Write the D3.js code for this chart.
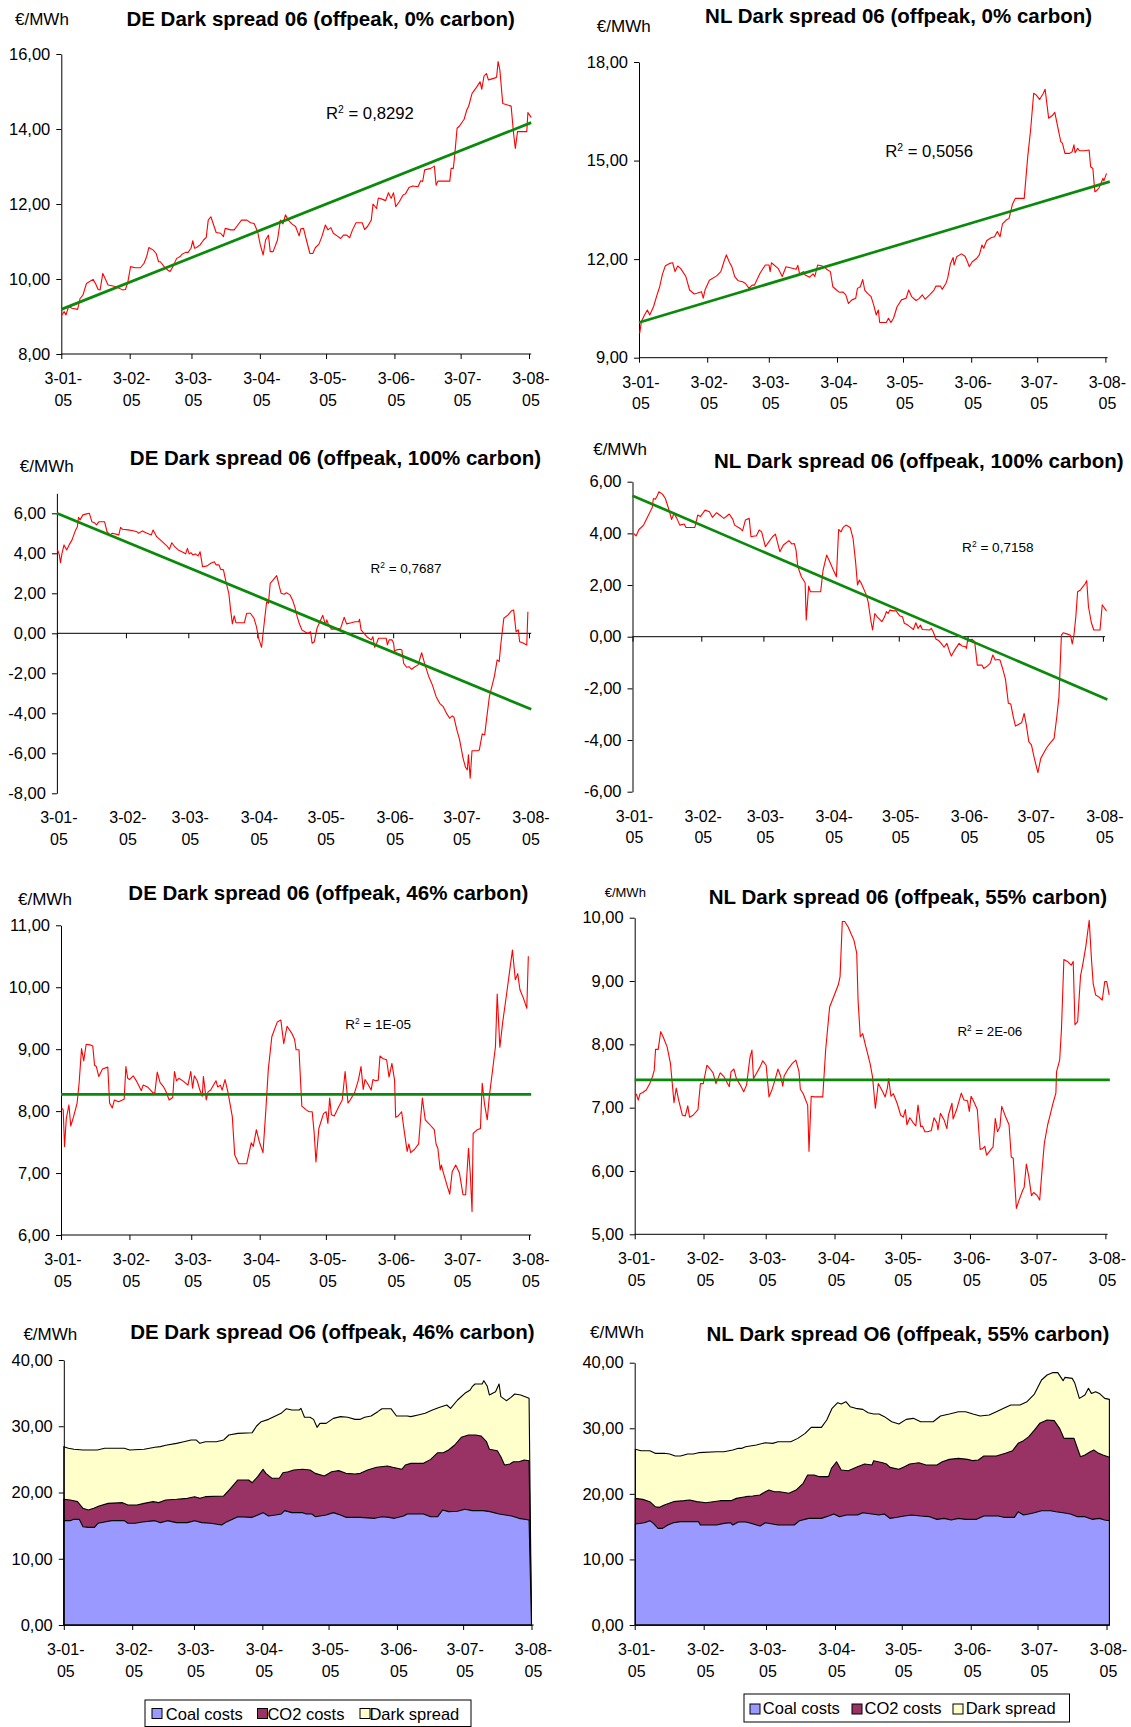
<!DOCTYPE html>
<html><head><meta charset="utf-8">
<script src="https://cdn.jsdelivr.net/npm/d3@7"></script>
<style>body{margin:0;background:#fff}svg{display:block}text{font-family:"Liberation Sans",Arial,sans-serif;fill:#000}</style>
</head><body>
<svg id="c" width="1131" height="1727"></svg>
<script>
// ---------- shared axis data ----------
const startDate = "2005-01-03";
const monthTicks = ["2005-01-03","2005-02-03","2005-03-03","2005-04-03","2005-05-03","2005-06-03","2005-07-03","2005-08-03"];
const tickLine1 = ["3-01-","3-02-","3-03-","3-04-","3-05-","3-06-","3-07-","3-08-"];
const tickLine2 = "05";
const legendLabels = ["Coal costs","CO2 costs","Dark spread"];

// ---------- series: [days since 3-01-05, €/MWh] ----------
const de0 = [[0.3,9.04],[1.3,9.13],[2.1,9.04],[2.6,9.13],[3.3,9.26],[4.9,9.22],[7.4,9.19],[8.5,9.48],[9.8,9.57],[11.4,9.88],[14.4,9.99],[15.5,9.88],[16.7,9.72],[17.6,9.71],[18.8,10.15],[21.2,9.84],[24.5,9.8],[27.8,9.71],[29.1,9.72],[30.2,9.93],[31.4,10.33],[33.5,10.3],[35.9,10.3],[37.5,10.42],[38.7,10.6],[39.7,10.84],[41.7,10.77],[43,10.68],[44.1,10.46],[44.9,10.46],[46.6,10.33],[48.2,10.24],[49.3,10.2],[50.6,10.33],[52.3,10.55],[53.9,10.6],[54.7,10.66],[56.4,10.71],[57.5,10.71],[58.8,10.82],[59.6,11.02],[60.4,10.82],[61.3,10.84],[62.9,10.91],[64.5,11.04],[65.7,11.11],[66.6,11.57],[67.8,11.66],[70.2,11.24],[72.2,11.22],[73.5,11.13],[74.3,11.35],[76.8,11.31],[78.4,11.31],[80,11.44],[81.7,11.57],[84.1,11.57],[85.8,11.5],[87.4,11.48],[89,11.26],[90.2,10.91],[91.5,10.64],[92.6,11.04],[93.9,11.17],[94.7,10.73],[96,10.73],[98,11.04],[99.3,11.57],[100.5,11.47],[101.6,11.71],[102.9,11.57],[104.5,11.47],[106.2,11.4],[107.8,11.15],[108.6,11.34],[109.8,11.35],[111.1,11.04],[112.7,10.68],[114,10.68],[115.2,10.84],[116.8,10.93],[118.1,11.13],[119.7,11.44],[120.9,11.31],[122.2,11.37],[123.3,11.22],[125,11.15],[126.6,11.08],[127.9,11.17],[129.4,11.17],[130.7,11.1],[132,11.31],[133.6,11.5],[136.4,11.5],[137.5,11.32],[138.8,11.4],[140.5,11.57],[141.3,12.0],[142.9,11.88],[143.7,12.16],[145.4,12.13],[147,12.09],[148.3,12.3],[149.5,12.15],[150.6,12.3],[151.6,11.93],[153.2,12.06],[154.9,12.24],[156,12.27],[157.6,12.44],[159.3,12.48],[161.7,12.46],[162.9,12.62],[163.8,12.6],[164.7,12.91],[167.4,12.95],[169.1,13.01],[169.9,12.5],[170.7,12.61],[176.1,12.61],[176.7,12.95],[177.7,12.95],[178.4,13.35],[179.4,14.02],[180.5,14.08],[182.6,14.26],[183.8,14.51],[184.6,14.6],[186.2,14.95],[188.2,15.11],[189.8,15.26],[190.6,15.06],[191.6,15.41],[192.7,15.48],[193.6,15.31],[196,15.35],[197.3,15.38],[198,15.8],[198.8,15.57],[200.1,14.68],[203.9,14.61],[205,13.88],[205.8,13.48],[206.8,13.93],[211,13.93],[211.5,14.44],[212.3,14.37],[213,14.31]];
const de0Trend = [[0,9.19],[213,14.17]];

const nl0 = [[0.3,9.74],[1.1,10.1],[2.5,10.3],[3.8,10.45],[4.9,10.3],[6.6,10.55],[8.2,10.91],[9.4,11.16],[10.7,11.55],[12,11.8],[13.9,11.87],[15.3,11.89],[16.4,11.62],[17.6,11.79],[18.9,11.72],[21.3,11.47],[23,11.06],[25.1,10.94],[26.3,10.96],[28.4,11.01],[29.2,10.81],[30,11.06],[32,11.36],[35.3,11.49],[37.2,11.62],[38.6,11.92],[39.7,12.13],[41,11.92],[42.2,11.77],[43.5,11.47],[45.1,11.34],[47.1,11.31],[48.4,11.26],[50,11.11],[51.4,11.21],[52.5,11.21],[55,11.57],[57.4,11.82],[59.1,11.82],[59.6,11.62],[60.2,11.89],[63.2,11.72],[65.1,11.47],[66.8,11.77],[69.7,11.72],[71.4,11.69],[72.2,11.81],[73,11.55],[74.7,11.62],[75.5,11.52],[77.6,11.45],[79.1,11.55],[79.9,11.47],[81.2,11.82],[82.9,11.8],[84.2,11.77],[85.3,11.69],[87,11.62],[88.1,11.16],[89.8,11.06],[91.1,10.99],[92.7,11.0],[94,10.91],[95.2,10.65],[96.8,10.76],[98.5,10.81],[99.3,11.11],[100.6,11.16],[101.7,11.38],[102.6,11.06],[103.9,10.96],[105.5,10.86],[106.7,10.6],[107.8,10.3],[108.8,10.45],[109.4,10.07],[110.8,10.07],[112.4,10.07],[113.4,10.2],[114.5,10.07],[115.7,10.2],[117.3,10.55],[119.3,10.76],[121.4,10.81],[122.6,11.06],[123.9,10.86],[125.9,10.74],[127.2,10.79],[128.8,10.91],[130.1,10.78],[132.1,10.91],[134.1,11.06],[135,11.18],[137,11.18],[137.8,11.08],[139.5,11.26],[140.3,11.42],[141.6,11.87],[142.8,12.05],[143.2,11.82],[144.4,12.07],[146.5,12.16],[148.2,12.09],[149.3,11.92],[150.1,11.77],[151.5,11.92],[153.4,12.02],[154.7,12.13],[155.9,12.43],[156.7,12.33],[158,12.56],[160,12.65],[161.6,12.68],[162.9,12.84],[164.1,12.68],[165.2,13.07],[166.9,13.19],[168.2,13.24],[169.8,13.68],[171.1,13.85],[175.1,13.85],[176.7,15.12],[178,15.93],[179.4,17.05],[180.5,17.0],[182.1,16.86],[183.8,17.05],[184.6,17.17],[186.2,16.29],[187.9,16.37],[189,16.47],[190.3,16.03],[191.7,15.58],[192.5,15.52],[193.6,15.22],[195.8,15.22],[196.9,15.27],[197.7,15.48],[198.2,15.24],[199.4,15.37],[200.2,15.3],[202.6,15.3],[204.6,15.32],[205.3,14.81],[206.3,14.76],[207.2,14.05],[207.9,14.08],[209.2,14.18],[210.9,14.46],[211.3,14.38],[212.5,14.61]];
const nl0Trend = [[0,10.07],[214,14.36]];

const de100 = [[0.3,4.17],[1.1,3.92],[1.6,3.53],[2.3,4.0],[3.2,4.42],[4.4,4.17],[5.5,4.42],[6.8,4.67],[8.4,5.17],[9.2,5.33],[9.7,5.8],[10.4,5.67],[11.7,5.92],[13.3,5.97],[14.6,6.0],[15.7,5.58],[16.8,5.53],[17.8,5.42],[18.9,5.58],[21.4,5.58],[22.5,5.08],[23.8,4.92],[24.9,5.0],[27.8,4.92],[28.6,5.3],[29.5,5.2],[31.9,5.17],[34.3,5.13],[35.9,5.08],[36.7,5.0],[38.4,5.12],[40,5.03],[42.4,4.92],[43.2,5.17],[44.8,4.83],[47.3,4.58],[49.7,4.33],[50.5,4.2],[51.6,4.53],[52.9,4.33],[54.5,4.17],[57,4.03],[57.8,3.97],[58.6,4.25],[59.4,3.97],[60.2,4.03],[61,3.92],[62.1,3.97],[63.4,3.87],[64.3,4.08],[65.4,3.33],[67.5,3.37],[69.1,3.5],[70.7,3.58],[71.5,3.42],[72.8,3.42],[73.5,3.2],[74.8,3.17],[75.9,2.58],[77.2,2.0],[78,1.17],[78.8,0.47],[79.6,0.87],[80.4,0.53],[82.1,0.53],[84.2,0.53],[85.2,1.0],[86.9,1.0],[88.5,0.75],[89.6,0.33],[90.6,-0.25],[91.9,-0.7],[93.4,0.83],[94.2,1.58],[95,1.5],[95.8,2.5],[98.7,2.88],[99.9,2.33],[100.7,2.0],[102,1.95],[103.1,2.03],[104.7,1.92],[105.8,1.67],[106.8,1.33],[107.9,0.83],[108.8,0.5],[110,0.17],[111.7,0.05],[112.8,0],[113.9,0.08],[114.6,-0.5],[115.6,-0.42],[116.8,0.25],[118.1,0.58],[119.4,0.9],[120.6,0.42],[121.2,0.67],[122,0.42],[123.3,0.2],[124.9,0.22],[127.4,0.25],[129,0.8],[130.1,0.47],[132.2,0.53],[133.8,0.58],[135.5,0.58],[135.9,0.7],[136.6,0.17],[137.9,0],[139.5,-0.2],[141.1,-0.33],[141.9,-0.17],[142.7,-0.7],[143.6,-0.5],[144.4,-0.25],[146.8,-0.25],[147.9,-0.25],[148.4,-0.58],[149.2,-0.33],[150.5,-0.33],[151.2,-0.5],[151.6,-0.92],[152.5,-0.83],[154.1,-0.8],[154.9,-0.83],[155.7,-1.5],[157,-1.7],[158.1,-1.67],[159.3,-1.8],[160.5,-1.7],[162.2,-1.58],[163.8,-0.97],[165.1,-1.5],[167,-2.17],[168.6,-2.58],[170.3,-3.17],[171.9,-3.5],[173.5,-3.67],[175.1,-4.03],[176.4,-4.25],[177.5,-4.13],[178.3,-4.2],[179.6,-4.83],[180.8,-5.3],[182.4,-6.25],[183.5,-6.7],[184.3,-6.83],[184.8,-6.08],[185.6,-7.25],[186.4,-5.87],[188.9,-5.87],[189.7,-5.83],[191,-5.03],[192.1,-5.08],[192.9,-4.33],[194.2,-3.17],[196.5,-2.13],[197.7,-1.33],[198.6,-1.42],[199.4,-0.5],[200.7,0.75],[202.6,0.92],[204.2,1.13],[205.1,1.17],[206.2,0.08],[207.2,0.17],[207.8,-0.42],[209.1,-0.47],[211,-0.58],[211.5,1.08]];
const de100Trend = [[0,6.0],[213,-3.8]];

const nl100 = [[0.5,4.0],[1.6,3.9],[2.9,4.15],[5,4.32],[7,4.67],[8.3,4.9],[8.9,5.0],[9.4,5.35],[10.3,5.32],[11.1,5.45],[11.9,5.61],[13.5,5.52],[14.8,5.35],[15.9,5.06],[16.8,4.8],[17.6,4.54],[18.7,4.77],[20,4.58],[21.3,4.32],[23.3,4.36],[24.1,4.23],[25.7,4.23],[28.1,4.23],[29.4,4.71],[30.6,4.65],[32.7,4.9],[34.7,4.84],[36,4.62],[37.9,4.8],[39.9,4.67],[41.2,4.58],[43.6,4.75],[45.2,4.54],[46,4.32],[48.5,4.19],[49.6,4.1],[50.9,4.52],[52.6,4.58],[53.4,3.87],[55,3.9],[55.8,3.9],[57.1,4.13],[58.2,4.06],[59.9,3.48],[61.5,3.68],[63.1,3.87],[64.4,3.97],[66.4,3.29],[68,3.55],[70.5,3.72],[71.8,3.59],[72.9,3.61],[73.7,3.35],[74.5,2.71],[76.1,2.32],[77.8,2.09],[78.3,0.65],[79.4,1.96],[80.2,1.74],[81.8,1.74],[83.5,1.74],[84.8,1.74],[85.9,2.58],[87.5,3.16],[89.2,2.84],[90.8,2.52],[91.9,2.32],[92.9,4.15],[94,4.06],[94.9,4.23],[96.2,4.32],[98.1,4.23],[99.4,3.81],[100.6,2.84],[101.4,2.0],[102.2,2.19],[103,2.09],[105.4,1.61],[106.2,1.35],[107.5,0.58],[108.2,0.26],[109.2,0.9],[110.3,0.77],[112.4,0.58],[113.6,0.77],[114.4,0.97],[115.2,0.9],[116,1.03],[117.6,1.0],[118.9,1.0],[119.6,0.9],[120.6,0.8],[121.7,0.77],[122.5,0.52],[124.1,0.45],[125.4,0.36],[126.6,0.28],[127.7,0.54],[128.7,0.32],[129.8,0.45],[130.6,0.28],[133.9,0.26],[134.7,0.32],[135.5,0.19],[136.8,-0.1],[138,-0.15],[139.1,-0.26],[140.4,-0.41],[141.7,-0.26],[142.9,-0.58],[143.7,-0.75],[145,-0.54],[147.2,-0.26],[148.5,-0.36],[150.2,-0.39],[150.5,-0.45],[151,-0.15],[153.1,-0.1],[154.2,-0.19],[155.4,-1.1],[157.5,-1.1],[158.3,-1.23],[159.9,-1.14],[161.2,-1.03],[162.4,-0.71],[163.5,-0.9],[164.8,-0.88],[165.6,-0.9],[166.8,-1.23],[168.1,-1.65],[169.4,-2.58],[170.5,-2.61],[171.6,-3.1],[172.6,-3.46],[174.3,-3.38],[175.4,-3.33],[176.5,-2.97],[177.5,-3.42],[178.6,-4.06],[179.8,-4.19],[181.1,-4.71],[182.7,-5.26],[184,-4.71],[185.2,-4.52],[186.8,-4.28],[188.4,-4.1],[190,-3.94],[191.2,-3.12],[192.2,-2.32],[193.3,0.06],[194.1,0.15],[196.1,0.1],[197.4,0.06],[198.2,-0.28],[199,0.1],[199.8,0.77],[200.6,1.74],[201.9,1.81],[203.9,2.04],[204.7,2.17],[205.5,1.16],[206.8,0.54],[207.9,0.26],[210,0.26],[210.7,0.26],[211.7,1.23],[212.3,1.16],[213.6,1.0]];
const nl100Trend = [[0,5.46],[214,-2.43]];

const de46 = [[0.3,8.05],[1,8.02],[1.6,7.43],[2.4,7.88],[3.6,8.1],[4.4,7.76],[5.7,7.91],[7.3,8.13],[8.2,8.45],[9.3,9.01],[10.3,8.81],[11.4,9.08],[13.1,9.07],[14.4,9.05],[15.2,8.74],[16,8.72],[17.1,8.56],[18.8,8.68],[21.2,8.71],[22,8.13],[23.2,8.05],[24.2,8.18],[26.1,8.15],[27.8,8.18],[28.6,8.19],[29.4,8.72],[30.2,8.53],[31,8.51],[32.7,8.57],[34.3,8.48],[36.4,8.33],[37.2,8.42],[39.2,8.39],[41.6,8.3],[42.5,8.29],[43.6,8.63],[44.9,8.46],[46.5,8.39],[47.4,8.33],[49,8.18],[50.6,8.22],[51.4,8.64],[52.3,8.49],[53.4,8.53],[55.5,8.48],[57.5,8.42],[58.8,8.64],[59.6,8.37],[60.4,8.57],[61.7,8.49],[62.9,8.34],[64,8.24],[64.5,8.56],[65.8,8.18],[66.6,8.31],[67.8,8.34],[70.2,8.49],[71,8.39],[72.2,8.42],[73,8.34],[74.3,8.51],[75.6,8.31],[77.6,7.91],[78.7,7.29],[80.5,7.15],[84.1,7.15],[86.2,7.49],[87.1,7.43],[88.5,7.7],[89.8,7.51],[91.5,7.33],[92.8,8.02],[93.9,8.67],[95.5,9.2],[98,9.44],[99.6,9.47],[100.9,9.09],[102.4,9.37],[104.5,9.26],[105.8,9.16],[106.5,8.99],[107.8,8.99],[109.1,8.08],[111.1,8.02],[112.4,7.99],[113.8,7.99],[114.7,7.64],[115.5,7.18],[116.8,7.72],[118.9,7.96],[120.1,7.99],[120.9,7.8],[121.7,8.21],[122.5,7.94],[123.8,7.92],[125.8,8.07],[127.4,8.18],[128.7,8.64],[130,8.13],[131,8.18],[133.1,8.31],[134.7,8.5],[135.9,8.72],[136.9,8.35],[137.7,8.51],[138.8,8.45],[140.5,8.34],[141.3,8.51],[142.4,8.49],[143.7,8.5],[144.5,8.89],[145.7,8.85],[147.5,8.83],[148.6,8.55],[149.9,8.77],[151.1,8.5],[151.6,7.9],[152.7,7.92],[154.3,7.99],[155.2,7.75],[156.8,7.35],[157.6,7.47],[158.4,7.33],[160.1,7.38],[162,7.47],[163,7.92],[163.7,8.21],[165,7.86],[166.6,7.8],[169.1,7.7],[169.9,7.47],[170.7,7.4],[171.8,7.05],[172.3,7.13],[173.1,7.02],[174.8,6.81],[176.1,6.66],[177.2,7.02],[178.8,7.13],[180.5,7.0],[182.1,6.65],[183.3,6.65],[184.6,7.4],[185.4,6.99],[186.2,6.38],[186.7,7.64],[188.6,7.7],[190,7.72],[190.8,8.45],[191.9,8.1],[193.1,7.86],[194,8.23],[195.7,8.72],[196.8,9.04],[197.6,9.89],[198.8,9.03],[200.1,9.44],[201.7,9.85],[203.3,10.28],[204.5,10.6],[205.8,10.12],[206.9,10.22],[207.9,9.96],[209.5,9.82],[211,9.66],[211.7,10.5]];
const de46Trend = [[0,8.27],[213,8.27]];

const nl55 = [[0.7,7.22],[1.6,7.12],[2.4,7.22],[3.6,7.24],[5.2,7.28],[6.8,7.38],[8,7.49],[8.8,7.59],[9.4,7.92],[10.6,7.92],[11.7,8.2],[12.8,8.12],[14.6,7.96],[16.1,7.7],[17.7,7.08],[18.7,7.31],[19.8,7.12],[21.5,6.88],[22.8,6.87],[23.9,7.03],[24.7,6.85],[26.3,6.88],[28.5,6.97],[29.6,7.38],[30.9,7.38],[32.5,7.67],[34,7.61],[35.3,7.55],[36.6,7.38],[38.5,7.55],[40.2,7.49],[42.6,7.33],[43.4,7.57],[44.7,7.61],[45.8,7.46],[47.5,7.36],[49.1,7.25],[50.4,7.36],[51.9,7.79],[52.8,7.91],[53.5,7.46],[54.8,7.54],[56.4,7.64],[57.7,7.74],[59.2,7.67],[60.5,7.17],[61.8,7.28],[63.2,7.44],[64.5,7.61],[65.7,7.5],[66.7,7.34],[67.3,7.5],[69.1,7.61],[71,7.7],[72.6,7.75],[74,7.57],[74.6,7.29],[75.9,7.22],[77.9,7.04],[78.5,6.31],[79.5,7.18],[80.8,7.17],[82.4,7.17],[84.7,7.17],[86,7.91],[87.8,8.59],[89.7,8.76],[91.7,8.94],[92.5,9.07],[93.5,9.94],[94.6,9.94],[96.2,9.85],[97.4,9.75],[98.7,9.65],[100,9.44],[100.6,8.7],[101.6,8.12],[102.7,8.17],[103.9,7.99],[106,7.7],[107.1,7.49],[108.4,6.99],[109.7,7.38],[111.7,7.25],[112.8,7.17],[113.8,7.31],[114.4,7.46],[115.4,7.18],[116.5,7.22],[118.2,7.07],[119.8,6.88],[121,6.85],[121.9,6.97],[122.6,6.73],[123.9,6.84],[125.5,6.76],[126.6,6.71],[127.6,7.04],[128.8,6.7],[129.6,6.71],[130.7,6.62],[132,6.62],[133.6,6.64],[134.8,6.84],[136.1,6.76],[136.6,6.65],[137.7,6.91],[139.3,6.81],[140.6,6.67],[141.3,6.88],[142.9,7.07],[143.4,6.82],[145,6.97],[147.1,7.23],[148.3,7.12],[149.9,7.11],[150.7,6.94],[151.5,7.18],[152.3,7.13],[154.3,6.97],[155.6,6.34],[156.9,6.36],[157.7,6.39],[158.5,6.25],[160.5,6.34],[161.4,6.38],[162.4,6.83],[163.4,6.62],[164.5,6.7],[165.3,7.02],[167,6.86],[168.6,6.73],[169.6,6.22],[170.5,6.2],[171.9,5.41],[173.1,5.54],[174.8,5.7],[175.4,5.74],[176.4,6.11],[177.5,5.91],[178.7,5.61],[179.7,5.66],[181.3,5.61],[182.4,5.54],[183.6,6.07],[184.5,6.44],[186,6.73],[187.3,6.91],[188.4,7.07],[189.7,7.23],[190,7.57],[191.4,7.75],[192.2,8.23],[193.3,9.34],[194.9,9.31],[196.6,9.25],[197.5,9.31],[198.3,8.31],[199.5,8.36],[200.8,9.08],[201.9,9.28],[203.2,9.55],[204.7,9.96],[205.7,9.36],[206.5,8.96],[207.6,8.78],[209,8.75],[210.6,8.7],[211.7,8.99],[212.6,8.99],[213.7,8.78]];
const nl55Trend = [[0,7.44],[214,7.44]];

// stacked: coal, coal+CO2, power price (= coal + CO2 + dark spread)
const deCoal = [[0,15.75],[2.9,15.75],[4.6,15.95],[7,15.95],[8.7,14.84],[11.1,14.74],[13.9,14.74],[15.5,15.35],[18.5,15.55],[21.7,15.75],[27.4,15.75],[29.1,15.35],[32.3,15.35],[35.6,15.55],[41.3,15.75],[43.8,15.45],[47,15.75],[51.1,15.45],[56,15.45],[59.3,15.75],[62.6,15.45],[66.6,15.35],[71.5,15.09],[74,15.6],[78.9,16.35],[85.4,16.25],[87.9,16.6],[90.3,16.96],[92.8,16.45],[96,16.6],[98.5,16.75],[100.1,17.26],[103.4,16.96],[108.3,16.96],[109.9,16.75],[112.4,16.75],[114,16.35],[118.9,16.6],[122.2,16.96],[125.4,16.6],[127.9,16.25],[134.4,16.25],[141,16.1],[144.2,16.35],[147.5,16.25],[149.9,16.1],[154,16.45],[155.7,16.75],[163,16.75],[166.3,16.35],[169.5,16.35],[171.7,17.36],[174.4,17.11],[178.5,17.16],[181.8,17.46],[185.1,17.26],[190,17.26],[193.2,17.11],[197.3,16.75],[203,16.45],[206.3,16.1],[210.9,15.85],[212,0]];
const deCoalCO2 = [[0,18.97],[2.9,18.87],[6.2,18.62],[8.7,17.61],[11.1,17.36],[13.6,17.61],[16,17.96],[20.1,18.36],[26.6,18.47],[29.1,18.11],[33.2,18.11],[36.4,18.36],[40.5,18.62],[43,18.47],[46.2,18.87],[51.1,18.97],[56,19.12],[59.3,19.37],[61.7,19.12],[64.2,19.37],[72.4,19.47],[75.6,20.63],[78.9,21.89],[83.8,21.89],[85.4,21.48],[87.9,22.39],[90.3,23.5],[91.6,22.89],[94.4,22.14],[97.7,22.14],[99.3,22.99],[101.8,23.14],[104.2,23.4],[108.3,23.5],[111.6,23.4],[114,22.89],[118.1,22.49],[121.4,23.14],[124.6,23.3],[127.9,22.89],[132,22.79],[134.4,22.89],[137.7,23.4],[141.8,23.8],[146.7,24.0],[149.1,23.8],[153.2,23.5],[154.8,24.15],[157.3,24.4],[163,24.4],[166.3,25.0],[169.5,26.01],[172,26.01],[174.4,26.42],[177.2,27.17],[180.2,28.33],[183.4,28.68],[186.7,28.68],[189.1,28.53],[191.6,27.67],[192.9,26.52],[196.5,26.31],[198.1,25.41],[199.8,24.15],[202.2,24.3],[203.8,24.65],[206.3,24.65],[208.7,24.91],[210.9,24.8],[212,0]];
const dePower = [[0,26.92],[2.1,26.67],[4.6,26.52],[8.7,26.42],[15.2,26.42],[18.5,26.67],[23.4,26.67],[27.4,26.67],[29.9,26.42],[36.4,26.52],[41.3,26.82],[43.8,26.92],[46.2,27.12],[51.1,27.42],[54.4,27.67],[57.7,27.92],[60.1,27.92],[61.7,27.42],[64.2,27.67],[69.1,27.67],[72.4,27.92],[74.8,28.68],[78.9,28.93],[85.4,29.03],[87.4,30.04],[89.5,30.69],[92.8,31.04],[95.2,31.45],[98.5,31.95],[100.9,32.65],[103.4,32.45],[106.7,32.45],[107.5,32.7],[109.1,31.35],[111.6,31.35],[113.2,31.04],[114.8,29.84],[116.1,30.44],[118.9,30.44],[122.2,31.19],[125.4,31.45],[128.7,31.35],[132,31.04],[134.4,31.04],[136.4,31.35],[139.3,31.55],[142.3,32.2],[144.2,32.65],[148.3,32.65],[150.8,31.55],[155.7,31.55],[157.3,31.45],[160.6,31.7],[163.8,31.95],[167.1,32.45],[170.4,32.86],[173.6,33.21],[175.3,32.7],[178.5,33.96],[181.8,34.97],[184.2,35.47],[185.1,35.97],[186.4,36.38],[189.6,36.38],[190.4,36.88],[191.9,36.08],[192.9,34.72],[195.7,35.22],[197.3,36.38],[198.1,34.47],[200.6,33.86],[202.7,34.36],[204.4,34.87],[207.1,34.72],[210.9,34.21],[212,0]];

const nlCoal = [[0.3,15.4],[4.4,15.6],[6.8,15.91],[8.4,15.5],[10.5,14.74],[12.5,14.74],[14.9,15.25],[17.4,15.6],[20.6,15.76],[28.7,15.76],[29.5,15.25],[36.8,15.25],[40.1,15.5],[43,15.6],[44.1,15.25],[46.6,15.71],[49.8,15.71],[51.4,15.6],[56.3,15.1],[58.7,15.6],[64.4,15.25],[71.7,15.25],[74.1,15.91],[78.2,16.26],[83.9,16.26],[87.1,16.62],[89.5,16.93],[92,16.52],[95.2,16.77],[100.1,16.77],[102.5,17.13],[106.6,16.93],[109.8,16.77],[112.2,16.93],[114.7,16.26],[117.9,16.42],[121.2,16.62],[124.4,16.77],[128.5,16.62],[132.5,16.52],[135.8,16.11],[139,16.26],[142.2,16.01],[145.5,16.26],[148.7,16.11],[153.6,16.11],[156.9,16.62],[163.4,16.62],[165.8,16.42],[170.6,16.42],[172.3,17.28],[174.7,16.77],[177.1,16.93],[179.6,17.13],[182.8,17.43],[186.9,17.43],[189.3,17.28],[192.5,17.13],[195.8,16.93],[199,16.52],[202.3,16.52],[205.5,16.11],[208.8,16.26],[211.2,16.01],[213.3,15.91]];
const nlCoalCO2 = [[0.3,19.31],[3.6,19.16],[6.8,18.81],[9.2,18.04],[11.2,17.94],[13.3,18.3],[17.4,18.81],[22.2,18.96],[24.7,19.06],[27.9,18.81],[32,18.65],[38.4,18.96],[43.3,18.96],[45.7,19.31],[49.8,19.57],[53,19.67],[56.3,19.82],[58.7,20.33],[60.3,20.58],[62.8,20.33],[65.2,20.33],[69.3,20.08],[72.5,20.58],[75.7,21.6],[77.7,22.87],[80.6,22.87],[83,22.62],[87.1,22.62],[88.4,23.89],[90.7,24.9],[92.8,23.63],[96,23.53],[100.1,24.14],[103.3,24.55],[106.6,24.4],[107.4,25.06],[111.4,24.75],[113.1,24.55],[114.7,24.04],[118.7,23.74],[121.2,24.14],[123.6,24.55],[127.7,24.75],[130.9,24.4],[135.8,24.4],[138.2,24.9],[141.4,25.26],[145.5,25.41],[149.6,25.26],[152,25.06],[154.4,25.16],[156.9,25.77],[162.5,25.77],[166.6,26.18],[169.8,26.58],[172.3,27.7],[174.7,28.11],[177.1,28.72],[179.6,29.73],[182,30.75],[185.3,31.26],[188.5,31.16],[190.9,29.99],[192.9,28.46],[197.4,28.46],[198.7,27.19],[200.3,25.67],[202.3,25.92],[204.7,26.43],[206.3,26.68],[208,26.28],[210.4,25.92],[213.3,25.57]];
const nlPower = [[0.3,26.79],[2.8,26.58],[6.8,26.58],[9.2,26.18],[13.3,26.18],[15.7,26.07],[18.2,25.77],[20.6,25.77],[23.8,26.07],[26.3,26.07],[28.7,26.28],[36.8,26.43],[40.1,26.43],[44.1,26.68],[46.6,26.94],[48.2,26.94],[49.8,27.19],[54.7,27.45],[58.7,27.8],[62,27.7],[64.4,27.95],[70.1,27.95],[73.3,28.46],[76.6,29.22],[79.3,30.14],[83.9,30.14],[86.3,31.26],[88.7,33.04],[91.2,33.9],[92.8,33.7],[94.9,34.05],[96.8,33.29],[99.3,33.04],[102.5,32.88],[104.9,32.38],[107.4,32.17],[109.8,32.17],[112.2,31.77],[115.5,31.0],[118.7,30.65],[122,31.36],[125.2,31.51],[128.5,31.0],[134.1,31.0],[137.4,31.87],[141.4,32.17],[145.5,32.53],[148.7,32.53],[152,32.17],[155.2,31.87],[159.3,32.02],[162.5,32.53],[165.8,33.04],[169,33.55],[173.1,33.55],[176.3,34.05],[179.6,35.22],[182.8,37.36],[185.3,38.12],[187.7,38.48],[190.1,38.48],[192.5,37.26],[193.3,37.76],[196.6,37.61],[197.7,36.95],[199.8,34.56],[202.3,35.07],[203.9,36.09],[205.2,35.32],[207.1,35.58],[208.8,35.32],[211.2,34.56],[213.3,34.41]];

// ---------- drawing ----------
const svg = d3.select("#c");
const parse = d3.utcParse("%Y-%m-%d");
const t0 = parse(startDate);
const tickDates = monthTicks.map(parse);
const toDate = d => new Date(t0.getTime() + d * 864e5);
const loc = d3.formatLocale({decimal: ",", thousands: ".", grouping: [3], currency: ["", "€"], minus: "-"});
const fmt = loc.format(".2f");
const RED = "#ff0000", GREEN = "#0a8a0a";

function frame(c) {
  const x = d3.scaleUtc().domain([tickDates[0], tickDates[7]]).range([c.x0, c.x212]);
  const y = d3.scaleLinear().domain(c.yDomain).range([c.yBottom, c.yTop]);
  const g = svg.append("g");
  c.g = g; c.x = x; c.y = y;
  return c;
}

function axes(c) {
  const {g, x, y} = c;
  const ya = g.append("g").attr("transform", `translate(${c.x0},0)`)
    .call(d3.axisLeft(y).tickValues(c.yTicks).tickFormat(fmt).tickSize(5).tickPadding(6).tickSizeOuter(0));
  ya.select(".domain").attr("stroke", "#000");
  ya.selectAll(".tick line").attr("stroke", "#000");
  ya.selectAll("text").attr("font-size", 16.5).attr("font-family", "Liberation Sans, Arial, sans-serif").attr("fill", "#000");
  const ax = c.xAxisAt !== undefined ? c.xAxisAt : c.yDomain[0];
  const xa = g.append("g").attr("transform", `translate(0,${y(ax)})`)
    .call(d3.axisBottom(x).tickValues(tickDates).tickFormat("").tickSize(5).tickSizeOuter(0));
  xa.select(".domain").remove();
  xa.selectAll(".tick line").attr("stroke", "#000");
  g.append("line").attr("x1", c.x0).attr("x2", x(toDate(213))).attr("y1", y(ax)).attr("y2", y(ax)).attr("stroke", "#000");
  tickDates.forEach((d, i) => {
    const t = g.append("text").attr("text-anchor", "middle").attr("font-size", 16);
    t.append("tspan").attr("x", x(d) + 2).attr("y", c.yBottom + 30).text(tickLine1[i]);
    t.append("tspan").attr("x", x(d) + 2).attr("y", c.yBottom + 51.5).text(tickLine2);
  });
  g.append("text").attr("x", c.titleX).attr("y", c.titleY).attr("text-anchor", "middle")
    .attr("font-size", 20.5).attr("font-weight", "bold").text(c.title);
  g.append("text").attr("x", c.unitX).attr("y", c.unitY).attr("font-size", c.unitSize || 17).text("€/MWh");
}

function linePanel(c, series, trend, r2) {
  frame(c);
  const {g, x, y} = c;
  const line = d3.line().x(d => x(toDate(d[0]))).y(d => y(d[1]));
  axes(c);
  g.append("path").datum(series).attr("d", line).attr("fill", "none").attr("stroke", RED).attr("stroke-width", 1.1).attr("stroke-linejoin", "round");
  g.append("path").datum(trend).attr("d", line).attr("fill", "none").attr("stroke", GREEN).attr("stroke-width", 2.7);
  const fs = c.r2Size;
  const t = g.append("text").attr("x", c.r2X).attr("y", c.r2Y).attr("font-size", fs);
  t.append("tspan").text("R");
  t.append("tspan").attr("font-size", fs * 0.62).attr("dy", -fs * 0.38).text("2");
  t.append("tspan").attr("dy", fs * 0.38).text(" = " + r2);
}

function stackPanel(c, coal, coalCo2, power, legend) {
  frame(c);
  const {g, x, y} = c;
  const area = d3.area().x(d => x(toDate(d[0]))).y0(y(0)).y1(d => y(d[1]));
  const layers = [[power, "#ffffcc"], [coalCo2, "#993366"], [coal, "#9999ff"]];
  layers.forEach(([data, col]) => {
    g.append("path").datum(data).attr("d", area).attr("fill", col).attr("stroke", "#000").attr("stroke-width", 1.1).attr("stroke-linejoin", "round");
  });
  axes(c);
  const L = legend;
  g.append("rect").attr("x", L.x).attr("y", L.y).attr("width", L.w).attr("height", L.h).attr("fill", "#fff").attr("stroke", "#000");
  const cols = ["#9999ff", "#993366", "#ffffcc"];
  legendLabels.forEach((lab, i) => {
    g.append("rect").attr("x", L.sx[i]).attr("y", L.sy).attr("width", 10).attr("height", 10).attr("fill", cols[i]).attr("stroke", "#000");
    g.append("text").attr("x", L.tx[i]).attr("y", L.ty).attr("font-size", 16.5).text(lab);
  });
}

linePanel({x0: 61.3, x212: 529.0, yTop: 54, yBottom: 354, yDomain: [8, 16], yTicks: [8, 10, 12, 14, 16],
  title: "DE Dark spread 06 (offpeak, 0% carbon)", titleX: 320.7, titleY: 26, unitX: 15, unitY: 25,
  r2X: 326, r2Y: 119, r2Size: 16.7}, de0, de0Trend, "0,8292");
linePanel({x0: 639.0, x212: 1105.4, yTop: 62, yBottom: 357.7, yDomain: [9, 18], yTicks: [9, 12, 15, 18],
  title: "NL Dark spread 06 (offpeak, 0% carbon)", titleX: 898.6, titleY: 23.3, unitX: 596.8, unitY: 31.7,
  r2X: 885.2, r2Y: 157, r2Size: 16.7}, nl0, nl0Trend, "0,5056");
linePanel({x0: 56.9, x212: 529.0, yTop: 493.3, yBottom: 793.3, yDomain: [-8, 7], yTicks: [-8, -6, -4, -2, 0, 2, 4, 6], xAxisAt: 0,
  title: "DE Dark spread 06 (offpeak, 100% carbon)", titleX: 335.5, titleY: 465, unitX: 19.8, unitY: 471.7,
  r2X: 370.5, r2Y: 572.7, r2Size: 13.5}, de100, de100Trend, "0,7687");
linePanel({x0: 632.5, x212: 1102.9, yTop: 481.7, yBottom: 791.7, yDomain: [-6, 6], yTicks: [-6, -4, -2, 0, 2, 4, 6], xAxisAt: 0,
  title: "NL Dark spread 06 (offpeak, 100% carbon)", titleX: 918.8, titleY: 468.3, unitX: 593.2, unitY: 455,
  r2X: 962.1, r2Y: 551.7, r2Size: 13.6}, nl100, nl100Trend, "0,7158");
linePanel({x0: 61.0, x212: 529.0, yTop: 925.3, yBottom: 1235, yDomain: [6, 11], yTicks: [6, 7, 8, 9, 10, 11],
  title: "DE Dark spread 06 (offpeak, 46% carbon)", titleX: 328.3, titleY: 900, unitX: 18, unitY: 905,
  r2X: 345.2, r2Y: 1029.3, r2Size: 13.5}, de46, de46Trend, "1E-05");
linePanel({x0: 634.7, x212: 1105.4, yTop: 917.7, yBottom: 1234.3, yDomain: [5, 10], yTicks: [5, 6, 7, 8, 9, 10],
  title: "NL Dark spread 06 (offpeak, 55% carbon)", titleX: 908, titleY: 904, unitX: 604.7, unitY: 896.7, unitSize: 13,
  r2X: 957.4, r2Y: 1035.7, r2Size: 13.3}, nl55, nl55Trend, "2E-06");
stackPanel({x0: 63.8, x212: 531.5, yTop: 1360, yBottom: 1625, yDomain: [0, 40], yTicks: [0, 10, 20, 30, 40],
  title: "DE Dark spread O6 (offpeak, 46% carbon)", titleX: 332.4, titleY: 1339.3, unitX: 23.4, unitY: 1340},
  deCoal, deCoalCO2, dePower,
  {x: 145, y: 1700, w: 326, h: 26.5, sx: [152, 257.5, 360], sy: 1708.5, tx: [165.8, 267.4, 369.4], ty: 1719.5});
stackPanel({x0: 634.7, x212: 1106.5, yTop: 1362.7, yBottom: 1625, yDomain: [0, 40], yTicks: [0, 10, 20, 30, 40],
  title: "NL Dark spread O6 (offpeak, 55% carbon)", titleX: 908, titleY: 1340.7, unitX: 590, unitY: 1338.3},
  nlCoal, nlCoalCO2, nlPower,
  {x: 744, y: 1694, w: 325.5, h: 28, sx: [750, 852, 953], sy: 1704, tx: [762.8, 864.6, 965.7], ty: 1713.5});
</script>
</body></html>
